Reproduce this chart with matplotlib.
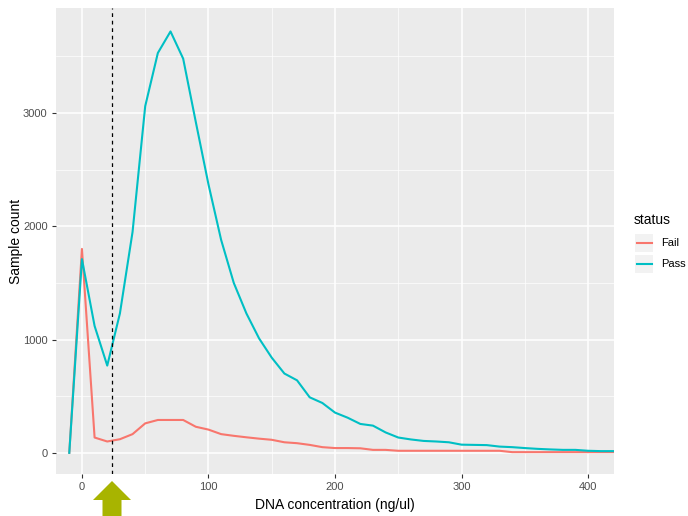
import matplotlib
matplotlib.use("Agg")
import matplotlib.pyplot as plt
from matplotlib.patches import Polygon, Rectangle
from matplotlib.lines import Line2D

plt.rcParams['font.family'] = ['Liberation Sans', 'DejaVu Sans']

# frequency polygon, bins of 10 ng/ul
conc = [-10, 0, 10, 20, 30, 40, 50, 60, 70, 80, 90, 100, 110, 120, 130, 140, 150,
        160, 170, 180, 190, 200, 210, 220, 230, 240, 250, 260, 270, 280, 290, 300,
        310, 320, 330, 340, 350, 360, 370, 380, 390, 400, 410, 420]
fail = [0, 1800, 135, 100, 120, 165, 260, 290, 290, 290, 230, 205, 165, 150, 137,
        125, 115, 93, 85, 70, 50, 42, 42, 40, 26, 26, 18, 18, 18, 18, 18, 18, 18,
        18, 18, 6, 6, 6, 6, 6, 6, 6, 6, 6]
passed = [0, 1710, 1120, 770, 1230, 1950, 3060, 3530, 3720, 3480, 2920, 2370, 1880,
          1500, 1230, 1010, 840, 700, 640, 490, 440, 355, 310, 255, 240, 180, 135,
          118, 105, 100, 93, 72, 70, 68, 55, 50, 42, 35, 30, 26, 26, 18, 15, 15]
cutoff = 23.5

status = ['Fail', 'Pass']
colors = ['#F8766D', '#00BFC4']
xticks = [0, 100, 200, 300, 400]
yticks = [0, 1000, 2000, 3000]

W, H = 688, 516
fig = plt.figure(figsize=(W / 100, H / 100), dpi=100)
ax = fig.add_axes([56/W, 1 - 474/H, (614 - 56)/W, (474 - 8)/H])
ax.set_facecolor('#EBEBEB')
for s in ax.spines.values():
    s.set_visible(False)

ax.set_xlim(-20.5, 420.5)
ax.set_ylim(-187, 3927)
ax.set_xticks(xticks)
ax.set_yticks(yticks)
ax.set_xticks([50, 150, 250, 350], minor=True)
ax.set_yticks([500, 1500, 2500, 3500], minor=True)
ax.grid(True, which='major', color='white', lw=1.1)
ax.grid(True, which='minor', color='white', lw=0.5)
ax.set_axisbelow(True)
ax.tick_params(which='major', length=3, width=0.8, color='#333333',
               labelsize=8, labelcolor='#4D4D4D', pad=3)
ax.tick_params(which='minor', length=0)

ax.plot(conc, fail, color=colors[0], lw=1.5, solid_joinstyle='round')
ax.plot(conc, passed, color=colors[1], lw=1.5, solid_joinstyle='round')
ax.axvline(cutoff, color='black', lw=0.9, ls=(0, (3, 3)))

ax.set_xlabel('DNA concentration (ng/ul)', fontsize=10, labelpad=4)
ax.set_ylabel('Sample count', fontsize=10, labelpad=0)

# legend, ggplot style with grey key boxes
fig.text(634/W, 1 - 220/H, 'status', fontsize=10, va='center', ha='left')
for i, (lab, c) in enumerate(zip(status, colors)):
    yc = 243 + i * 21
    fig.patches.append(Rectangle((635/W, 1 - (yc + 9)/H), 18/W, 18/H,
                                 transform=fig.transFigure,
                                 facecolor='#F2F2F2', edgecolor='none'))
    fig.lines.append(Line2D([637/W, 652/W], [1 - yc/H, 1 - yc/H], color=c,
                            lw=1.5, transform=fig.transFigure))
    fig.text(661/W, 1 - yc/H, lab, fontsize=8, va='center', ha='left')

# arrow under the cutoff
pts = [(93, 500), (112, 481), (131, 500), (121.5, 500), (121.5, 516),
       (102.5, 516), (102.5, 500)]
fig.patches.append(Polygon([(x / W, 1 - y / H) for x, y in pts], closed=True,
                           transform=fig.transFigure, facecolor='#A8B400',
                           edgecolor='none'))

fig.savefig('out.png', dpi=100)
